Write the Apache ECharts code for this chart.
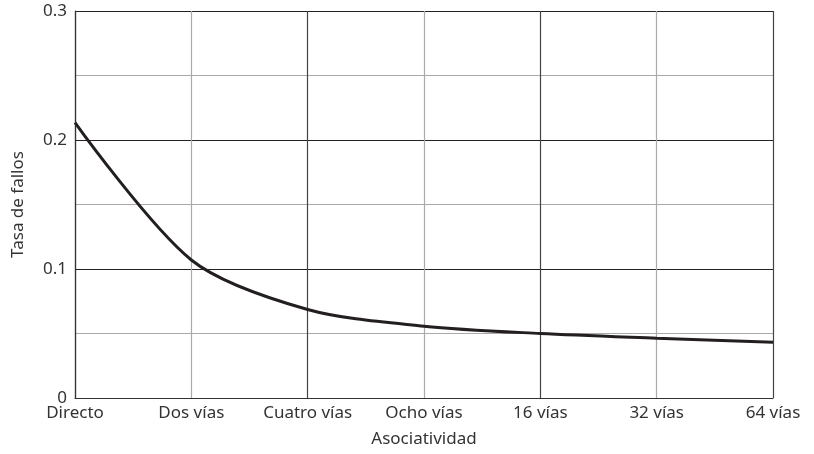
<!DOCTYPE html>
<html>
<head>
<meta charset="utf-8">
<script src="https://cdn.jsdelivr.net/npm/echarts@6/dist/echarts.min.js"></script>
<style>
  html, body { margin: 0; padding: 0; background: #fff; }
  #chart { width: 814px; height: 454px; }
</style>
</head>
<body>
<div id="chart"></div>
<script>
const categories = ['Directo', 'Dos vías', 'Cuatro vías', 'Ocho vías', '16 vías', '32 vías', '64 vías'];
const missRate = [0.2135, 0.107, 0.0686, 0.0557, 0.0500, 0.0464, 0.0432];
const yTickLabels = ['0', '0.1', '0.2', '0.3'];

const FONT = 'Noto Sans';
const chart = echarts.init(document.getElementById('chart'), null, { renderer: 'canvas' });
chart.setOption({
  animation: false,
  backgroundColor: '#ffffff',
  grid: { left: 75, right: 41, top: 11, bottom: 56, containLabel: false },
  xAxis: {
    type: 'category',
    data: categories,
    boundaryGap: false,
    name: 'Asociatividad',
    nameLocation: 'middle',
    nameGap: 33,
    nameTextStyle: { fontFamily: FONT, fontSize: 17, color: '#333' },
    axisLine: { show: true, lineStyle: { color: '#333', width: 1.2 } },
    axisTick: { show: false },
    axisLabel: { fontFamily: FONT, fontSize: 17, color: '#333', margin: 7, interval: 0 },
    splitLine: { show: true, lineStyle: { color: ['#444', '#aaa'], width: 1.2 } }
  },
  yAxis: {
    type: 'value',
    min: 0,
    max: 0.3,
    interval: 0.05,
    name: 'Tasa de fallos',
    nameLocation: 'middle',
    nameGap: 48,
    nameTextStyle: { fontFamily: FONT, fontSize: 17, color: '#333' },
    axisLine: { show: true, lineStyle: { color: '#333', width: 1.2 } },
    axisTick: { show: false },
    axisLabel: {
      fontFamily: FONT, fontSize: 17, color: '#333', margin: 8,
      formatter: function (v) {
        const k = Math.round(v * 10);
        if (Math.abs(v * 10 - k) < 1e-6) return yTickLabels[k];
        return '';
      }
    },
    splitLine: { show: true, lineStyle: { color: ['#222', '#aaa'], width: 1.2 } }
  },
  series: [{
    type: 'line',
    data: missRate,
    smooth: 0.3,
    symbol: 'none',
    lineStyle: { color: '#231f20', width: 3 }
  }]
});
</script>
</body>
</html>
